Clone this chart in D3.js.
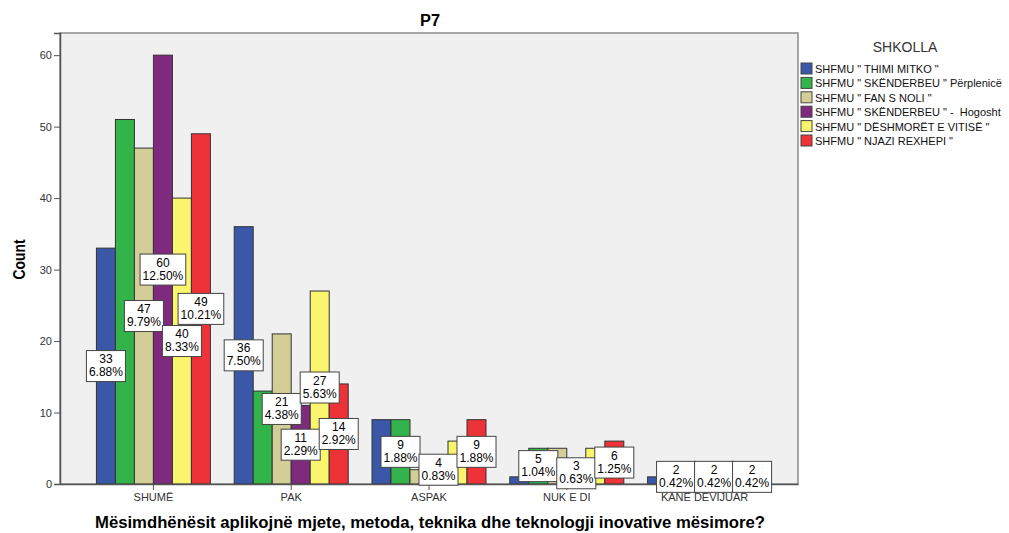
<!DOCTYPE html>
<html>
<head>
<meta charset="utf-8">
<script src="https://cdn.jsdelivr.net/npm/d3@7"></script>
<style>
  body { margin: 0; background: #fff; }
  svg { display: block; font-family: "Liberation Sans", Arial, sans-serif; }
</style>
</head>
<body>
<svg id="chart" width="1009" height="533"></svg>
<script>
const categories = ["SHUMË", "PAK", "ASPAK", "NUK E DI", "KANË DEVIJUAR"];
const seriesNames = [
  "SHFMU \" THIMI MITKO \"",
  "SHFMU \" SKËNDERBEU \" Përplenicë",
  "SHFMU \" FAN S NOLI \"",
  "SHFMU \" SKËNDERBEU \" -  Hogosht",
  "SHFMU \" DËSHMORËT E VITISË \"",
  "SHFMU \" NJAZI REXHEPI \""
];
// counts per series, in category order
const thimiMitko   = [33, 36, 9, 1, 1];
const skenderbeuP  = [51, 13, 9, 5, 2];
const fanNoli      = [47, 21, 2, 5, 2];
const skenderbeuH  = [60, 11, 4, 3, 2];
const deshmoret    = [40, 27, 6, 5, 2];
const njaziRexhepi = [49, 14, 9, 6, 2];
// percentage labels (of total) per series
const pctThimi   = ["6.88%", "7.50%", "1.88%", "0.21%", "0.21%"];
const pctSkendP  = ["10.63%", "2.71%", "1.88%", "1.04%", "0.42%"];
const pctFan     = ["9.79%", "4.38%", "0.42%", "1.04%", "0.42%"];
const pctSkendH  = ["12.50%", "2.29%", "0.83%", "0.63%", "0.42%"];
const pctDesh    = ["8.33%", "5.63%", "1.25%", "1.04%", "0.42%"];
const pctNjazi   = ["10.21%", "2.92%", "1.88%", "1.25%", "0.42%"];
// which data labels are visible in the reference
const showThimi  = [true, true, false, false, false];
const showSkendP = [false, false, true, true, true];
const showFan    = [true, true, false, false, false];
const showSkendH = [true, true, true, true, true];
const showDesh   = [true, true, false, false, false];
const showNjazi  = [true, true, true, true, true];
const yTicks = [0, 10, 20, 30, 40, 50, 60];
const colors = ["#3b58a8", "#32b44a", "#d3cd98", "#7e2a7d", "#fbf56d", "#ee3338"];

const values = [thimiMitko, skenderbeuP, fanNoli, skenderbeuH, deshmoret, njaziRexhepi];
const pcts = [pctThimi, pctSkendP, pctFan, pctSkendH, pctDesh, pctNjazi];
const shows = [showThimi, showSkendP, showFan, showSkendH, showDesh, showNjazi];

const svg = d3.select("#chart");
const L = 60, R = 798, T = 33, B = 484;

const x0 = d3.scaleBand().domain(categories).range([L, R]).paddingInner(0).paddingOuter(0.178);
const groupW = 114;
const x1 = d3.scaleBand().domain(d3.range(seriesNames.length))
  .range([(x0.bandwidth() - groupW) / 2, (x0.bandwidth() + groupW) / 2]);
const y = d3.scaleLinear().domain([0, 63.1]).range([B, T]);

// plot frame
svg.append("rect").attr("x", L).attr("y", T).attr("width", R - L).attr("height", B - T)
  .attr("fill", "#f0f0f0").attr("stroke", "#8c8c8c").attr("stroke-width", 1.5);

// bars
const records = [];
values.forEach((arr, s) => arr.forEach((v, c) => records.push({s, c, v, p: pcts[s][c], show: shows[s][c]})));

svg.append("g").selectAll("rect").data(records).join("rect")
  .attr("x", d => x0(categories[d.c]) + x1(d.s))
  .attr("y", d => y(d.v))
  .attr("width", x1.bandwidth())
  .attr("height", d => y(0) - y(d.v))
  .attr("fill", d => colors[d.s])
  .attr("stroke", "#333").attr("stroke-width", 1);

// axes
const yAxis = svg.append("g").attr("transform", `translate(${L},0)`)
  .call(d3.axisLeft(y).tickValues(yTicks).tickSize(6).tickPadding(2));
const xAxis = svg.append("g").attr("transform", `translate(0,${B})`)
  .call(d3.axisBottom(x0).tickSize(6).tickPadding(3).tickSizeOuter(0));
[yAxis, xAxis].forEach(g => {
  g.select(".domain").attr("stroke", "#555").attr("stroke-width", 1.5);
  g.selectAll(".tick line").attr("stroke", "#555");
  g.selectAll(".tick text").attr("fill", "#333").style("font-size", "11px")
    .style("font-family", "'Liberation Sans', Arial, sans-serif");
});

// data labels
const lab = svg.append("g").selectAll("g").data(records.filter(d => d.show)).join("g")
  .attr("transform", d => `translate(${x0(categories[d.c]) + x1(d.s) + x1.bandwidth() / 2},${(y(d.v) + y(0)) / 2})`);
lab.each(function(d) {
  const g = d3.select(this);
  const rect = g.append("rect").attr("fill", "#fff").attr("stroke", "#444").attr("stroke-width", 1);
  const t1 = g.append("text").attr("text-anchor", "middle").attr("y", -3).style("font-size", "12px").text(d.v);
  const t2 = g.append("text").attr("text-anchor", "middle").attr("y", 10).style("font-size", "12px").text(d.p);
  const w = Math.max(t1.node().getComputedTextLength(), t2.node().getComputedTextLength()) + 5;
  rect.attr("x", -w / 2).attr("y", -15.5).attr("width", w).attr("height", 31);
});

// title
svg.append("text").attr("x", 430).attr("y", 26).attr("text-anchor", "middle")
  .style("font-size", "16px").style("font-weight", "bold")
  .attr("textLength", 20).attr("lengthAdjust", "spacingAndGlyphs").text("P7");

// y axis title
svg.append("text").attr("transform", `translate(25,${(T + B) / 2 + 1}) rotate(-90)`)
  .attr("text-anchor", "middle").style("font-size", "16px").style("font-weight", "bold")
  .attr("textLength", 40).attr("lengthAdjust", "spacingAndGlyphs").text("Count");

// x axis title
svg.append("text").attr("x", 430).attr("y", 528).attr("text-anchor", "middle")
  .style("font-size", "16px").style("font-weight", "bold")
  .attr("textLength", 670).attr("lengthAdjust", "spacingAndGlyphs")
  .text("Mësimdhënësit aplikojnë mjete, metoda, teknika dhe teknologji inovative mësimore?");

// legend
svg.append("text").attr("x", 905).attr("y", 52).attr("text-anchor", "middle")
  .attr("fill", "#333").style("font-size", "14px").text("SHKOLLA");
const leg = svg.append("g").selectAll("g").data(seriesNames).join("g")
  .attr("transform", (d, i) => `translate(801,${63 + i * 14.4})`);
leg.append("rect").attr("width", 11).attr("height", 11)
  .attr("fill", (d, i) => colors[i]).attr("stroke", "#444").attr("stroke-width", 1);
leg.append("text").attr("x", 14).attr("y", 10).style("font-size", "11px")
  .style("white-space", "pre").attr("fill", "#111").text(d => d);
</script>
</body>
</html>
